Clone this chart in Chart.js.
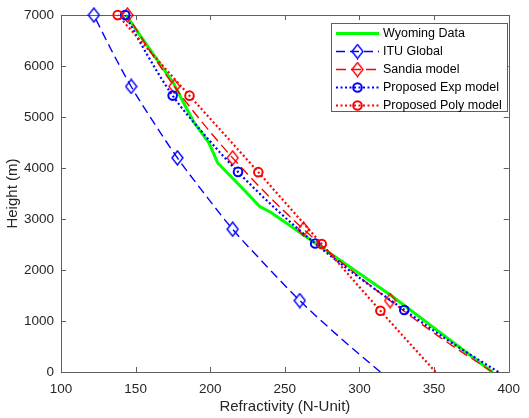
<!DOCTYPE html>
<html>
<head>
<meta charset="utf-8">
<script src="https://cdn.jsdelivr.net/npm/chart.js@4/dist/chart.umd.min.js"></script>
<style>
html,body{margin:0;padding:0;background:#fff;}
#wrap{width:529px;height:418px;position:relative;}
</style>
</head>
<body>
<div id="wrap"><canvas id="c" width="529" height="418"></canvas></div>
<script>
// ---- data ----
const xTickLabels = [100, 150, 200, 250, 300, 350, 400];
const yTickLabels = [0, 1000, 2000, 3000, 4000, 5000, 6000, 7000];
const seriesNames = ['Wyoming Data', 'ITU Global', 'Sandia model', 'Proposed Exp model', 'Proposed Poly model'];

const wyomingHeight = [0, 1505, 3123, 3252, 3560, 4100, 4500, 4900, 5680, 7000];
const wyomingN      = [389, 321, 241, 233, 223, 205, 199, 189, 175, 143.5];

const ituHeight = [0, 700, 1400, 2100, 2800, 3500, 4200, 4900, 5600, 6300, 7000];
const ituN      = [314, 286, 260, 237, 215, 196, 178, 162, 147, 134, 122];
const ituMarkerIdx = [2, 4, 6, 8, 10];

const sandiaHeight = [0, 700, 1400, 2100, 2800, 3500, 4200, 4900, 5600, 6300, 7000];
const sandiaN      = [389, 353, 320.5, 290, 262.5, 237.5, 215, 194.5, 176, 159.5, 144.5];
const sandiaMarkerIdx = [2, 4, 6, 8, 10];

const expHeight = [0, 608, 1217, 1869, 2521, 3223, 3925, 4673, 5421, 6210, 7000];
const expN      = [393, 360, 330, 299, 270.3, 243, 218.6, 195.5, 174.8, 158, 143];
const expMarkerIdx = [2, 4, 6, 8, 10];

const polyHeight = [0, 1200, 2510, 3920, 5420, 7000];
const polyN      = [351, 314, 274.7, 232.2, 186.1, 138];
const polyMarkerIdx = [1, 2, 3, 4, 5];

// ---- helpers ----
const FONT = "'Liberation Sans', Arial, sans-serif";
const AXIS_COLOR = '#5e5e5e';
const TEXT_COLOR = '#262626';

function toPoints(hs, ns) { return hs.map((h, i) => ({ x: ns[i], y: h })); }
function radii(n, idx, r) { const a = new Array(n).fill(0); idx.forEach(i => a[i] = r); return a; }
function makeDiamond(color) {
  const c = document.createElement('canvas');
  c.width = 13; c.height = 16;
  const g = c.getContext('2d');
  g.strokeStyle = color; g.lineWidth = 1.4;
  g.beginPath();
  g.moveTo(6.5, 1); g.lineTo(12, 8); g.lineTo(6.5, 15); g.lineTo(1, 8); g.closePath();
  g.stroke();
  return c;
}
const blueDiamond = makeDiamond('#0000ff');
const redDiamond = makeDiamond('#ff0000');

const datasets = [
  {
    label: seriesNames[0], data: toPoints(wyomingHeight, wyomingN),
    borderColor: '#00ff00', borderWidth: 3, pointRadius: 0, tension: 0,
    order: 5, legendMarker: null
  },
  {
    label: seriesNames[1], data: toPoints(ituHeight, ituN),
    borderColor: '#0000ff', borderWidth: 1.4, borderDash: [9, 5],
    pointRadius: radii(ituHeight.length, ituMarkerIdx, 6), pointStyle: blueDiamond,
    cubicInterpolationMode: 'monotone', order: 4, legendMarker: blueDiamond
  },
  {
    label: seriesNames[2], data: toPoints(sandiaHeight, sandiaN),
    borderColor: '#ff0000', borderWidth: 1.4, borderDash: [10, 5],
    pointRadius: radii(sandiaHeight.length, sandiaMarkerIdx, 6), pointStyle: redDiamond,
    cubicInterpolationMode: 'monotone', order: 3, legendMarker: redDiamond
  },
  {
    label: seriesNames[3], data: toPoints(expHeight, expN),
    borderColor: '#0000ff', borderWidth: 2.2, borderDash: [2, 2.5],
    pointRadius: radii(expHeight.length, expMarkerIdx, 4.3), pointStyle: 'circle',
    pointBorderColor: '#0000ff', pointBorderWidth: 2, pointBackgroundColor: 'rgba(0,0,0,0)',
    cubicInterpolationMode: 'monotone', order: 2, legendMarker: 'circle'
  },
  {
    label: seriesNames[4], data: toPoints(polyHeight, polyN),
    borderColor: '#ff0000', borderWidth: 2.2, borderDash: [2, 2.5],
    pointRadius: radii(polyHeight.length, polyMarkerIdx, 4.3), pointStyle: 'circle',
    pointBorderColor: '#ff0000', pointBorderWidth: 2, pointBackgroundColor: 'rgba(0,0,0,0)',
    cubicInterpolationMode: 'monotone', order: 1, legendMarker: 'circle'
  }
];
datasets.forEach(d => { d.showLine = true; d.fill = false; d.clip = false; d.backgroundColor = 'rgba(0,0,0,0)'; });

// frame with inward ticks on all four sides
const framePlugin = {
  id: 'frame',
  beforeDatasetsDraw(chart) {
    const { ctx, chartArea: a, scales: { x, y } } = chart;
    ctx.save();
    ctx.strokeStyle = AXIS_COLOR;
    ctx.lineWidth = 1;
    ctx.beginPath();
    ctx.rect(Math.round(a.left) + 0.5, Math.round(a.top) + 0.5,
             Math.round(a.right) - Math.round(a.left), Math.round(a.bottom) - Math.round(a.top));
    const L = 5;
    x.ticks.forEach(t => {
      const px = Math.round(x.getPixelForValue(t.value)) + 0.5;
      ctx.moveTo(px, a.bottom); ctx.lineTo(px, a.bottom - L);
      ctx.moveTo(px, a.top); ctx.lineTo(px, a.top + L);
    });
    y.ticks.forEach(t => {
      const py = Math.round(y.getPixelForValue(t.value)) + 0.5;
      ctx.moveTo(a.left, py); ctx.lineTo(a.left + L, py);
      ctx.moveTo(a.right, py); ctx.lineTo(a.right - L, py);
    });
    ctx.stroke();
    ctx.restore();
  }
};

// MATLAB-style legend box
const legendPlugin = {
  id: 'matlabLegend',
  afterDatasetsDraw(chart) {
    const ctx = chart.ctx;
    const bx = 331.5, by = 23.5, bw = 176, bh = 88;
    ctx.save();
    ctx.fillStyle = '#ffffff';
    ctx.fillRect(bx, by, bw, bh);
    ctx.strokeStyle = AXIS_COLOR;
    ctx.lineWidth = 1;
    ctx.strokeRect(bx, by, bw, bh);
    const x0 = 336, x1 = 379, xm = (x0 + x1) / 2;
    chart.data.datasets.forEach((d, i) => {
      const yy = 33.5 + i * 18;
      ctx.save();
      ctx.strokeStyle = d.borderColor;
      ctx.lineWidth = d.borderWidth;
      ctx.setLineDash(d.borderDash || []);
      ctx.beginPath();
      ctx.moveTo(x0, yy); ctx.lineTo(x1, yy);
      ctx.stroke();
      ctx.restore();
      const m = d.legendMarker;
      if (m && typeof m === 'object') {
        ctx.drawImage(m, xm - m.width / 2, yy - m.height / 2);
      } else if (m === 'circle') {
        ctx.beginPath();
        ctx.arc(xm, yy, 4.3, 0, Math.PI * 2);
        ctx.strokeStyle = d.pointBorderColor;
        ctx.lineWidth = 2;
        ctx.setLineDash([]);
        ctx.stroke();
      }
      ctx.fillStyle = '#000';
      ctx.font = '12.5px ' + FONT;
      ctx.textBaseline = 'middle';
      ctx.textAlign = 'left';
      ctx.fillText(d.label, 383, yy);
    });
    ctx.restore();
  }
};

new Chart(document.getElementById('c'), {
  type: 'scatter',
  data: { datasets },
  options: {
    responsive: false,
    animation: false,
    layout: { padding: { left: 0, right: 11, top: 12, bottom: 0 } },
    plugins: { legend: { display: false }, tooltip: { enabled: false } },
    scales: {
      x: {
        type: 'linear', min: 100, max: 400,
        afterBuildTicks: s => { s.ticks = xTickLabels.map(v => ({ value: v })); },
        afterFit: s => { s.height = 46; },
        grid: { display: false, drawTicks: false },
        border: { display: false },
        ticks: { color: TEXT_COLOR, font: { family: FONT, size: 13.5 }, padding: 9, maxRotation: 0, callback: v => String(v) },
        title: { display: true, text: 'Refractivity (N-Unit)', color: TEXT_COLOR, font: { family: FONT, size: 15 }, padding: { top: 4, bottom: 2 } }
      },
      y: {
        type: 'linear', min: 0, max: 7000,
        afterBuildTicks: s => { s.ticks = yTickLabels.map(v => ({ value: v })); },
        afterFit: s => { s.width = 61; },
        grid: { display: false, drawTicks: false },
        border: { display: false },
        ticks: { color: TEXT_COLOR, font: { family: FONT, size: 13.5 }, padding: 7, callback: v => String(v) },
        title: { display: true, text: 'Height (m)', color: TEXT_COLOR, font: { family: FONT, size: 15 }, padding: { top: 4, bottom: 4 } }
      }
    }
  },
  plugins: [framePlugin, legendPlugin]
});
</script>
</body>
</html>
